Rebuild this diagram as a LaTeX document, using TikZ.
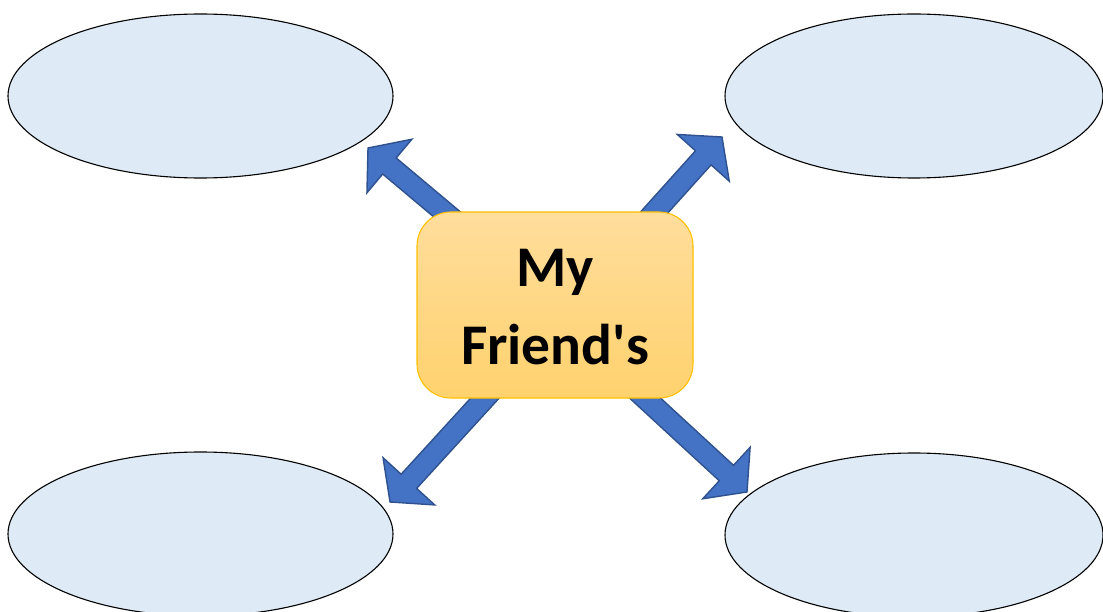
\documentclass[tikz,border=0pt]{standalone}
\usepackage{fontspec}
\setmainfont{Carlito}[Ligatures=TeXOff]
\usetikzlibrary{shapes.geometric,calc}
\definecolor{ellfill}{HTML}{DEEBF7}
\definecolor{arrfill}{HTML}{4472C4}
\definecolor{arrline}{HTML}{2F528F}
\definecolor{boxline}{HTML}{FFC000}
\definecolor{boxtop}{HTML}{FFDD9C}
\definecolor{boxbot}{HTML}{FFD26E}
\tikzset{
  bubble/.style={ellipse, draw=black, line width=1.1pt, fill=ellfill, minimum width=385pt, minimum height=164pt, inner sep=0pt},
  centerbox/.style={rectangle, rounded corners=34pt, draw=boxline, line width=1.1pt, top color=boxtop, bottom color=boxbot, minimum width=276pt, minimum height=186pt, inner sep=0pt},
  blockarrow/.style={fill=arrfill, draw=arrline, line width=1.4pt, line join=miter},
  boxtext/.style={anchor=base, font=\fontsize{57.5}{77}\selectfont\bfseries}
}
\newcommand\blockarr[2]{%
  \coordinate (hb) at ($(#2)!28pt!(#1)$);
  \draw[blockarrow]
    ($(#1)!10.5pt!90:(#2)$) --
    ($(hb)!10.5pt!-90:(#1)$) --
    ($(hb)!35pt!-90:(#1)$) --
    (#2) --
    ($(hb)!35pt!90:(#1)$) --
    ($(hb)!10.5pt!90:(#1)$) --
    ($(#1)!10.5pt!-90:(#2)$) -- cycle;
}
\begin{document}
\begin{tikzpicture}[x=1pt,y=-1pt]
  \useasboundingbox (0,0) rectangle (1103,612);
  \node[bubble] (tl) at (200.5,96) {};
  \node[bubble, minimum width=378pt] (tr) at (914,96) {};
  \node[bubble] (bl) at (200.5,534) {};
  \node[bubble, minimum width=378pt] (br) at (914,535) {};
  \coordinate (c) at (555,305);
  \coordinate (sTL) at (555,305);
  \coordinate (sTR) at (571,305);
  \coordinate (sBL) at (570,305);
  \coordinate (sBR) at (544,305);
  \coordinate (tipTL) at (368,148);
  \coordinate (tipTR) at (722,137);
  \coordinate (tipBL) at (390,502);
  \coordinate (tipBR) at (747,492);
  \blockarr{sTL}{tipTL}
  \blockarr{sTR}{tipTR}
  \blockarr{sBL}{tipBL}
  \blockarr{sBR}{tipBR}
  \node[centerbox] (box) at (c) {};
  \node[boxtext] (t1) at (555,287) {My};
  \node[boxtext] (t2) at (555,364) {Friend's};
\end{tikzpicture}
\end{document}
